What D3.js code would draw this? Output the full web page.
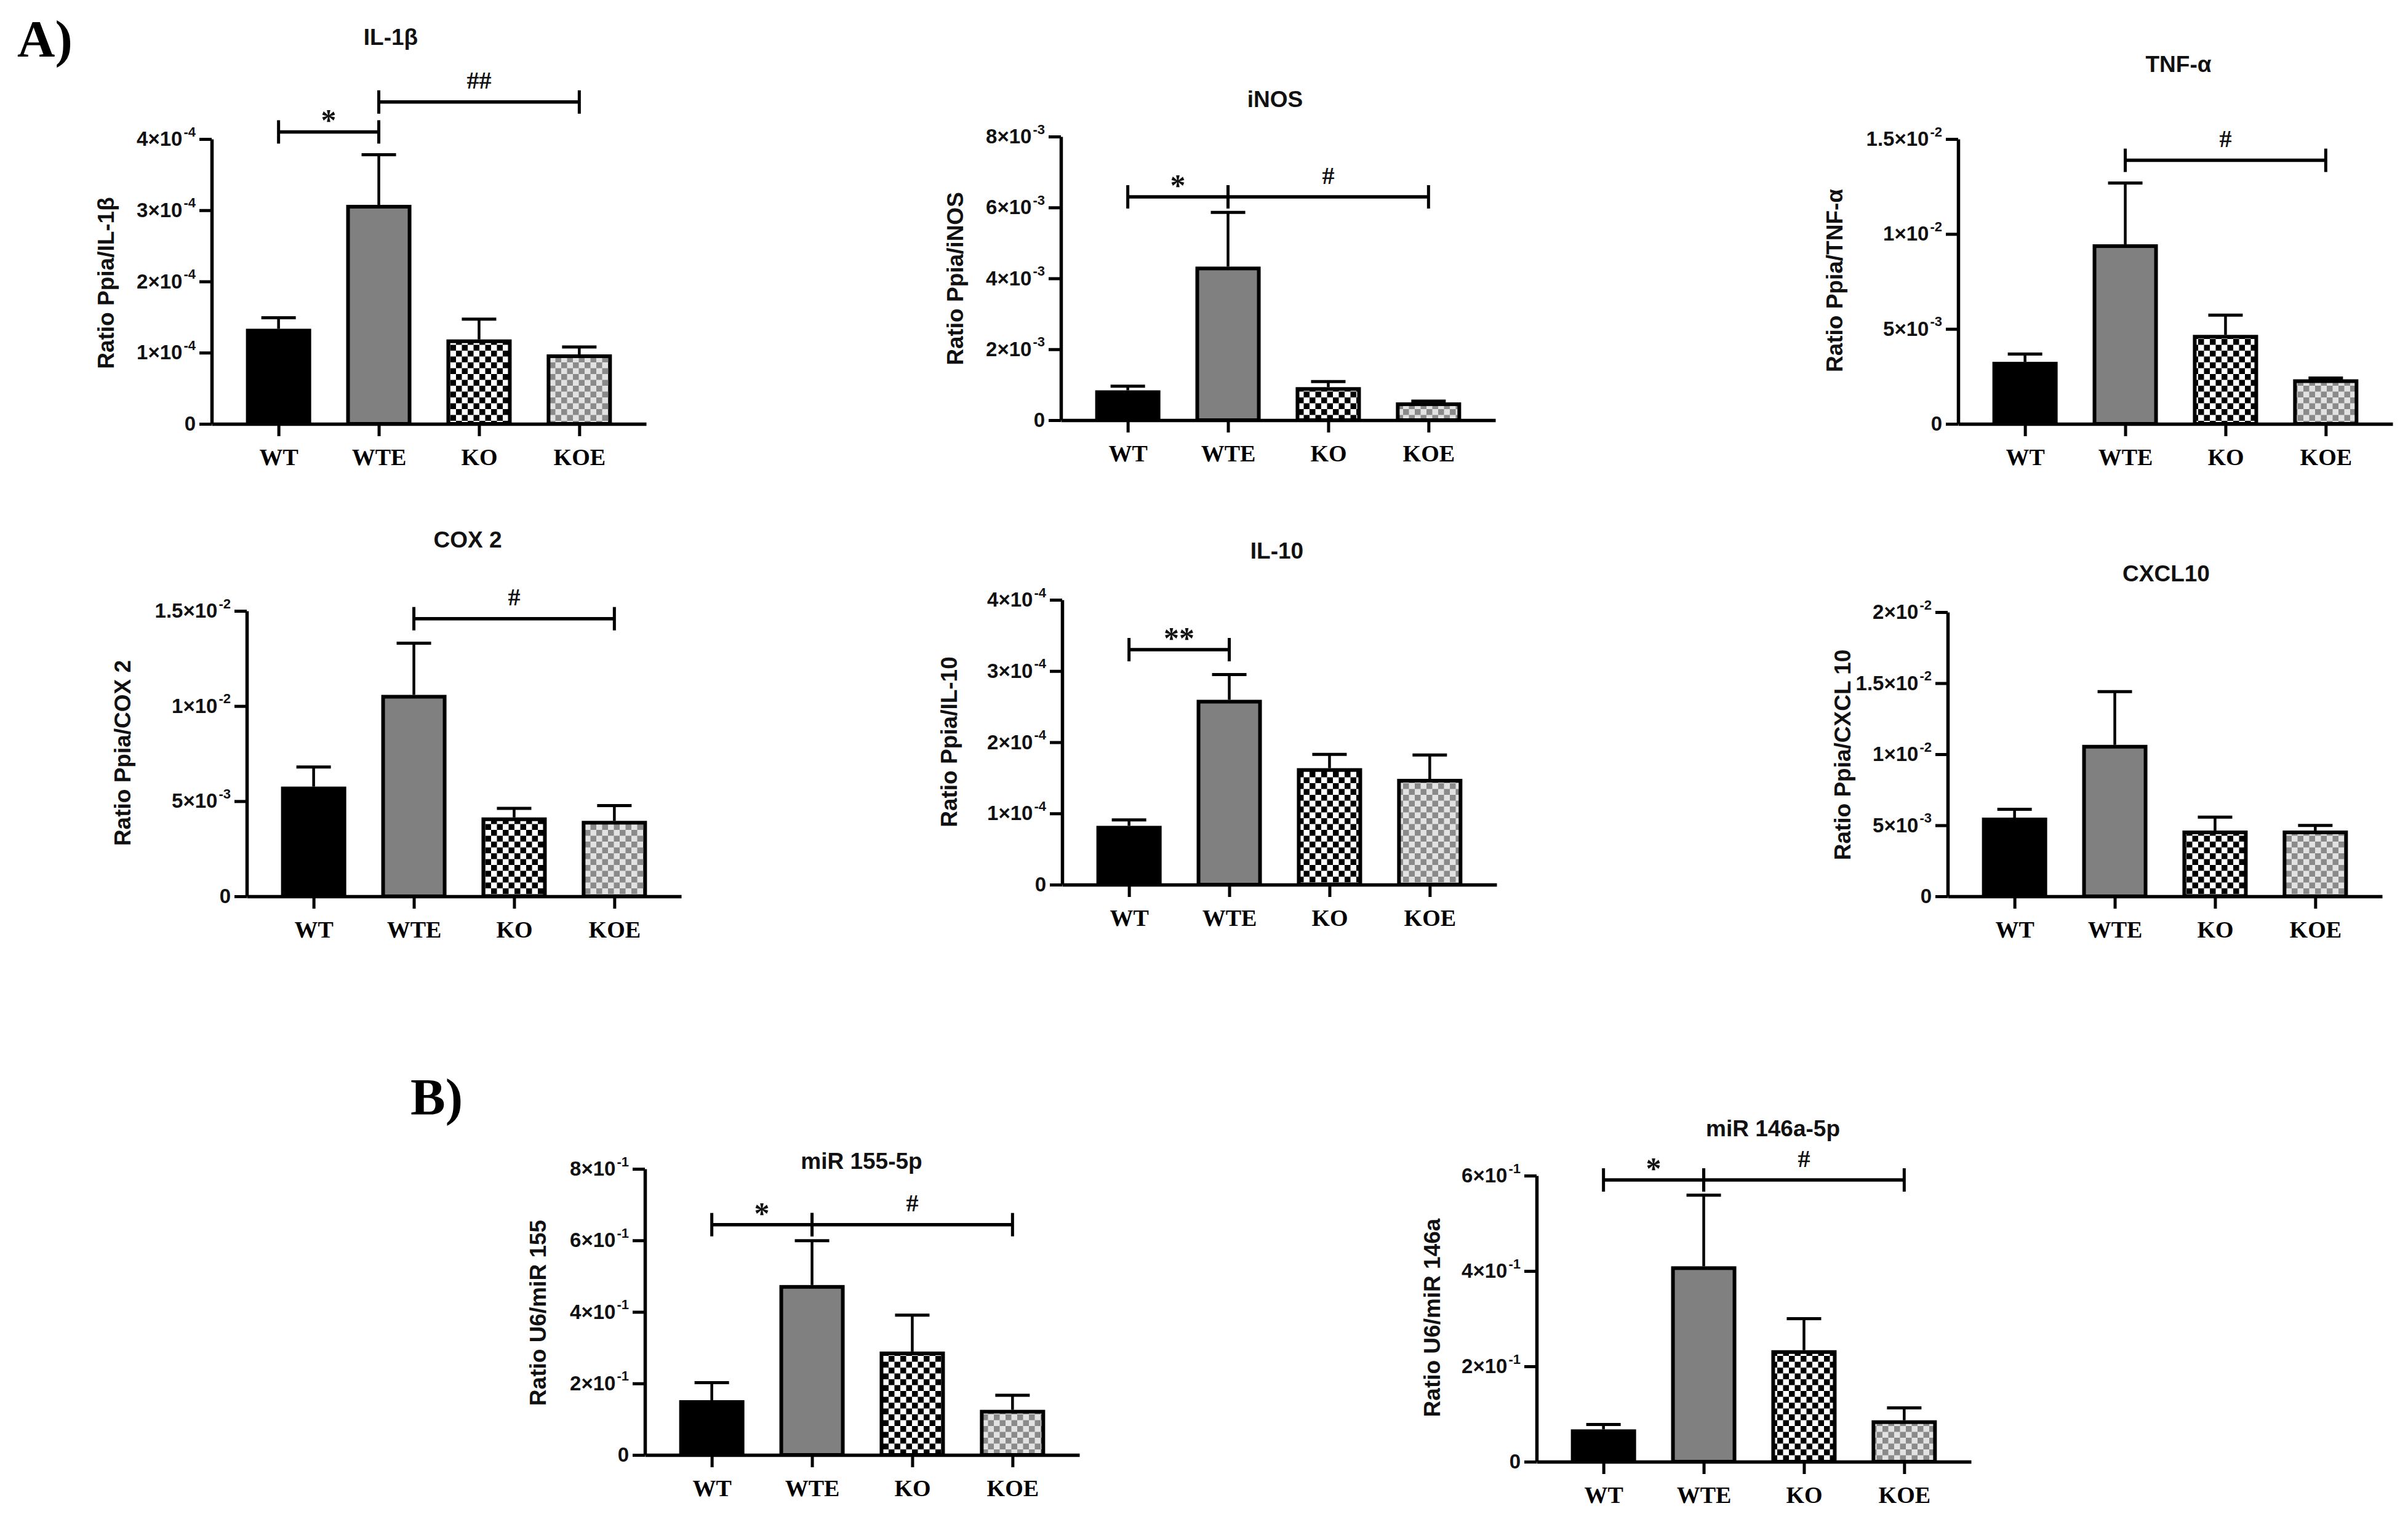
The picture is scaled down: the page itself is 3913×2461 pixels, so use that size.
<!DOCTYPE html>
<html><head><meta charset="utf-8">
<script src="https://cdn.jsdelivr.net/npm/d3@7"></script>
<style>body{margin:0;background:#fff}svg{display:block}</style>
</head><body>
<svg id="fig" width="3913" height="2461"></svg>
<script>
// ---------------- DATA ----------------
const categories = ["WT", "WTE", "KO", "KOE"];

const il1bMean = [1.31e-4, 3.05e-4, 1.16e-4, 0.95e-4];
const il1bSem  = [0.18e-4, 0.73e-4, 0.31e-4, 0.13e-4];
const il1bTicks = [0, 1e-4, 2e-4, 3e-4, 4e-4];
const il1bSig = [{from:"WT", to:"WTE", level:4.10e-4, label:"*"}, {from:"WTE", to:"KOE", level:4.52e-4, label:"##"}];

const inosMean = [0.79e-3, 4.28e-3, 0.88e-3, 0.45e-3];
const inosSem  = [0.17e-3, 1.58e-3, 0.21e-3, 0.09e-3];
const inosTicks = [0, 2e-3, 4e-3, 6e-3, 8e-3];
const inosSig = [{from:"WT", to:"WTE", level:6.30e-3, label:"*"}, {from:"WTE", to:"KOE", level:6.30e-3, label:"#"}];

const tnfMean = [3.17e-3, 9.36e-3, 4.59e-3, 2.25e-3];
const tnfSem  = [0.51e-3, 3.32e-3, 1.14e-3, 0.16e-3];
const tnfTicks = [0, 5e-3, 1e-2, 1.5e-2];
const tnfSig = [{from:"WTE", to:"KOE", level:13.88e-3, label:"#"}];

const cox2Mean = [5.67e-3, 10.49e-3, 4.05e-3, 3.87e-3];
const cox2Sem  = [1.13e-3, 2.81e-3, 0.57e-3, 0.90e-3];
const cox2Ticks = [0, 5e-3, 1e-2, 1.5e-2];
const cox2Sig = [{from:"WTE", to:"KOE", level:14.59e-3, label:"#"}];

const il10Mean = [0.80e-4, 2.57e-4, 1.61e-4, 1.46e-4];
const il10Sem  = [0.11e-4, 0.38e-4, 0.22e-4, 0.36e-4];
const il10Ticks = [0, 1e-4, 2e-4, 3e-4, 4e-4];
const il10Sig = [{from:"WT", to:"WTE", level:3.30e-4, label:"**"}];

const cxcl10Mean = [5.41e-3, 10.53e-3, 4.50e-3, 4.50e-3];
const cxcl10Sem  = [0.72e-3, 3.87e-3, 1.07e-3, 0.49e-3];
const cxcl10Ticks = [0, 5e-3, 1e-2, 1.5e-2, 2e-2];
const cxcl10Sig = [];

const mir155Mean = [0.148, 0.470, 0.284, 0.121];
const mir155Sem  = [0.054, 0.129, 0.107, 0.046];
const mir155Ticks = [0, 0.2, 0.4, 0.6, 0.8];
const mir155Sig = [{from:"WT", to:"WTE", level:0.644, label:"*"}, {from:"WTE", to:"KOE", level:0.644, label:"#"}];

const mir146Mean = [0.064, 0.406, 0.230, 0.083];
const mir146Sem  = [0.014, 0.153, 0.070, 0.030];
const mir146Ticks = [0, 0.2, 0.4, 0.6];
const mir146Sig = [{from:"WT", to:"WTE", level:0.591, label:"*"}, {from:"WTE", to:"KOE", level:0.591, label:"#"}];

// ---------------- LAYOUT ----------------
const panels = [
  {title:"IL-1β", ylabel:"Ratio Ppia/IL-1β", mean:il1bMean, sem:il1bSem, ticks:il1bTicks, sig:il1bSig,
   ax:344, top:226, zero:689, tx:635, ty:60, lx:172, ly:460},
  {title:"iNOS", ylabel:"Ratio Ppia/iNOS", mean:inosMean, sem:inosSem, ticks:inosTicks, sig:inosSig,
   ax:1724, top:222, zero:683, tx:2072, ty:161, lx:1552, ly:453},
  {title:"TNF-α", ylabel:"Ratio Ppia/TNF-α", mean:tnfMean, sem:tnfSem, ticks:tnfTicks, sig:tnfSig,
   ax:3182, top:226, zero:689, tx:3540, ty:104, lx:2981, ly:456},
  {title:"COX 2", ylabel:"Ratio Ppia/COX 2", mean:cox2Mean, sem:cox2Sem, ticks:cox2Ticks, sig:cox2Sig,
   ax:401, top:993, zero:1457, tx:760, ty:877, lx:199, ly:1224},
  {title:"IL-10", ylabel:"Ratio Ppia/IL-10", mean:il10Mean, sem:il10Sem, ticks:il10Ticks, sig:il10Sig,
   ax:1726, top:975, zero:1438, tx:2075, ty:895, lx:1542, ly:1206},
  {title:"CXCL10", ylabel:"Ratio Ppia/CXCL 10", mean:cxcl10Mean, sem:cxcl10Sem, ticks:cxcl10Ticks, sig:cxcl10Sig,
   ax:3165, top:995, zero:1457, tx:3520, ty:932, lx:2994, ly:1227},
  {title:"miR 155-5p", ylabel:"Ratio U6/miR 155", mean:mir155Mean, sem:mir155Sem, ticks:mir155Ticks, sig:mir155Sig,
   ax:1048, top:1900, zero:2365, tx:1400, ty:1887, lx:874, ly:2134},
  {title:"miR 146a-5p", ylabel:"Ratio U6/miR 146a", mean:mir146Mean, sem:mir146Sem, ticks:mir146Ticks, sig:mir146Sig,
   ax:2497, top:1911, zero:2376, tx:2881, ty:1834, lx:2327, ly:2142}
];

const AXW = 706, BW = 100, CAP = 56;
const SANS = "'Liberation Sans', Arial, sans-serif";
const SERIF = "'Liberation Serif', 'Times New Roman', serif";
const fills = ["#000000", "#808080", "url(#koPat)", "url(#koePat)"];

const svg = d3.select("#fig");
svg.append("rect").attr("width", 3913).attr("height", 2461).attr("fill", "#fff");
const defs = svg.append("defs");
function checker(id, bg, fg, s) {
  const p = defs.append("pattern").attr("id", id).attr("patternUnits", "userSpaceOnUse")
    .attr("width", 2 * s).attr("height", 2 * s);
  p.append("rect").attr("width", 2 * s).attr("height", 2 * s).attr("fill", bg);
  p.append("rect").attr("width", s).attr("height", s).attr("fill", fg);
  p.append("rect").attr("x", s).attr("y", s).attr("width", s).attr("height", s).attr("fill", fg);
}
checker("koPat", "#ffffff", "#000000", 9.5);
checker("koePat", "#e2e2e2", "#8a8a8a", 9.5);

function sci(v) {
  if (v === 0) return null;
  const e = Math.floor(Math.log10(v) + 1e-9);
  const m = Math.round(v / Math.pow(10, e) * 10) / 10;
  return {m: String(m), e: String(e)};
}

panels.forEach(p => {
  const g = svg.append("g");
  const x = d3.scalePoint().domain(categories).range([p.ax, p.ax + AXW]).padding(0.667);
  const y = d3.scaleLinear().domain([0, d3.max(p.ticks)]).range([p.zero, p.top]);

  // bars
  g.selectAll("rect.bar").data(categories).join("rect").attr("class", "bar")
    .attr("x", c => x(c) - BW / 2).attr("width", BW)
    .attr("y", (c, i) => y(p.mean[i]))
    .attr("height", (c, i) => y(0) - y(p.mean[i]))
    .attr("fill", (c, i) => fills[i])
    .attr("stroke", "#000").attr("stroke-width", 6);

  // error bars
  const eb = g.selectAll("g.err").data(categories).join("g").attr("class", "err");
  eb.append("line")
    .attr("x1", c => x(c)).attr("x2", c => x(c))
    .attr("y1", (c, i) => y(p.mean[i]) - 3).attr("y2", (c, i) => y(p.mean[i] + p.sem[i]))
    .attr("stroke", "#000").attr("stroke-width", 4.5);
  eb.append("line")
    .attr("x1", c => x(c) - CAP / 2).attr("x2", c => x(c) + CAP / 2)
    .attr("y1", (c, i) => y(p.mean[i] + p.sem[i])).attr("y2", (c, i) => y(p.mean[i] + p.sem[i]))
    .attr("stroke", "#000").attr("stroke-width", 5);

  // y axis
  const ya = g.append("g").attr("transform", `translate(${p.ax},0)`)
    .call(d3.axisLeft(y).tickValues(p.ticks).tickSize(20).tickSizeOuter(0).tickPadding(6).tickFormat(""));
  ya.select(".domain").attr("stroke-width", 5.5);
  ya.selectAll(".tick line").attr("stroke-width", 5);
  ya.attr("font-family", SANS).attr("font-size", 33).attr("font-weight", "bold");
  ya.selectAll(".tick text").attr("fill", "#111").each(function(d) {
    const t = d3.select(this);
    const s = sci(d);
    if (!s) { t.text("0"); return; }
    t.append("tspan").text(s.m + "×10");
    t.append("tspan").attr("font-size", 22).attr("dx", 2).attr("dy", "-0.7em").text(s.e);
  });

  // x axis
  const xa = g.append("g").attr("transform", `translate(0,${p.zero})`)
    .call(d3.axisBottom(x).tickSize(20).tickSizeOuter(0).tickPadding(20));
  xa.select(".domain").attr("stroke-width", 5.5);
  xa.selectAll(".tick line").attr("stroke-width", 5);
  xa.attr("font-family", SERIF).attr("font-size", 38).attr("font-weight", "bold");
  xa.selectAll(".tick text").attr("fill", "#000");

  // significance brackets
  p.sig.forEach(s => {
    const x1 = x(s.from), x2 = x(s.to), yy = y(s.level);
    g.append("line").attr("x1", x1).attr("x2", x2).attr("y1", yy).attr("y2", yy)
      .attr("stroke", "#000").attr("stroke-width", 5.5);
    [x1, x2].forEach(xx => g.append("line").attr("x1", xx).attr("x2", xx)
      .attr("y1", yy - 19).attr("y2", yy + 19).attr("stroke", "#000").attr("stroke-width", 5));
    const star = s.label.indexOf("*") >= 0;
    const fs = star ? 50 : 40;
    const base = star ? yy - 27 + 0.5 * fs : yy - 35 + 0.34 * fs;
    g.append("text").attr("x", (x1 + x2) / 2).attr("y", base)
      .attr("text-anchor", "middle").attr("font-family", SERIF).attr("font-weight", "bold")
      .attr("font-size", fs).attr("fill", "#111").text(s.label);
  });

  // title
  g.append("text").attr("x", p.tx).attr("y", p.ty + 13).attr("text-anchor", "middle")
    .attr("font-family", SANS).attr("font-weight", "bold").attr("font-size", 37).attr("fill", "#111")
    .text(p.title);

  // y label
  g.append("text").attr("transform", `translate(${p.lx},${p.ly}) rotate(-90)`)
    .attr("text-anchor", "middle").attr("dy", "0.35em")
    .attr("font-family", SANS).attr("font-weight", "bold").attr("font-size", 37).attr("fill", "#111")
    .text(p.ylabel);
});

// panel letters
svg.append("text").attr("x", 28).attr("y", 92).attr("font-family", SERIF).attr("font-weight", "bold")
  .attr("font-size", 85).attr("fill", "#000").text("A)");
svg.append("text").attr("x", 667).attr("y", 1812).attr("font-family", SERIF).attr("font-weight", "bold")
  .attr("font-size", 85).attr("fill", "#000").text("B)");
</script>
</body></html>
